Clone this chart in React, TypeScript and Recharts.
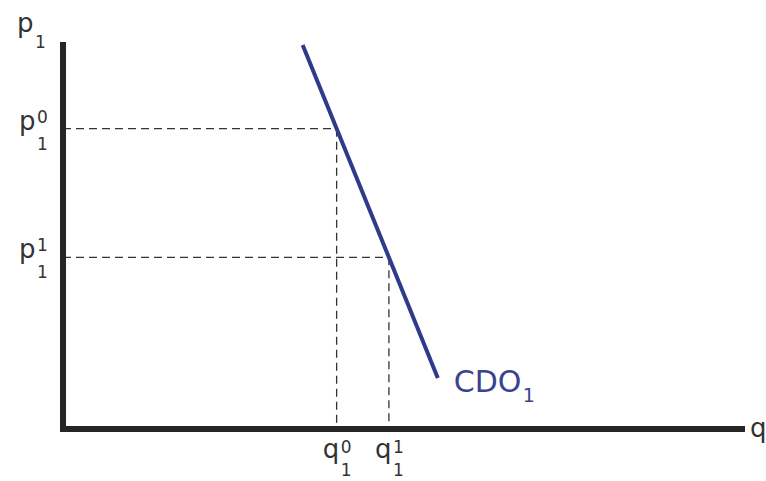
import React from "react";
import { LineChart, Line, XAxis, YAxis, ReferenceLine, LabelList } from "recharts";

// demand curve end points (quantity, price)
const demandCurve = [
  { q: 35.3, p: 100 },
  { q: 55.2, p: 13.3 },
];

// two equilibrium points on the curve
const quantities = [40.3, 48.0];
const prices = [78.2, 44.7];
const stateMarks = ["0", "1"];

const FONT = "'DejaVu Sans', Verdana, sans-serif";
const TEXT = "#333";
const AXIS = "#262626";
const CURVE = "#2f3a8a";

const QTick = (props: any) => {
  const { x, y, index } = props;
  return (
    <g fontFamily={FONT} fill={TEXT}>
      <text x={x - 14} y={y + 29} fontSize={26}>q</text>
      <text x={x + 4} y={y + 24} fontSize={17}>{stateMarks[index]}</text>
      <text x={x + 4} y={y + 47} fontSize={17}>1</text>
    </g>
  );
};

const PTick = (props: any) => {
  const { x, y, index } = props;
  return (
    <g fontFamily={FONT} fill={TEXT}>
      <text x={x - 44} y={y + 1} fontSize={26}>p</text>
      <text x={x - 26} y={y - 6} fontSize={17}>{stateMarks[index]}</text>
      <text x={x - 26} y={y + 21} fontSize={17}>1</text>
    </g>
  );
};

const PTitle = (props: any) => {
  const { x, y, width } = props.viewBox;
  const left = x + width;
  return (
    <g fontFamily={FONT} fill={TEXT}>
      <text x={left - 46} y={y - 13} fontSize={26}>p</text>
      <text x={left - 28} y={y + 3} fontSize={17}>1</text>
    </g>
  );
};

const QTitle = (props: any) => {
  const { x, y, width } = props.viewBox;
  return (
    <text x={x + width + 8} y={y + 8} fontSize={26} fontFamily={FONT} fill={TEXT}>
      q
    </text>
  );
};

const CurveName = (props: any) => {
  const { x, y, index } = props;
  if (index !== demandCurve.length - 1) return null;
  return (
    <g fontFamily={FONT} fill="#3b4290">
      <text x={x + 16} y={y + 14} fontSize={30}>CDO</text>
      <text x={x + 85} y={y + 24} fontSize={19}>1</text>
    </g>
  );
};

export default function App() {
  return (
    <div style={{ position: "absolute", left: 0, top: 0, background: "#fff" }}>
      <LineChart
        width={766}
        height={481}
        data={demandCurve}
        margin={{ top: 45, right: 24, left: 62, bottom: 51 }}
      >
        <XAxis
          type="number"
          dataKey="q"
          domain={[0, 100]}
          ticks={quantities}
          tick={<QTick />}
          tickLine={false}
          tickSize={0}
          tickMargin={0}
          height={1}
          axisLine={{ stroke: AXIS, strokeWidth: 6, strokeLinecap: "square" }}
          label={{ content: QTitle }}
          interval={0}
        />
        <YAxis
          type="number"
          dataKey="p"
          domain={[0, 100]}
          ticks={prices}
          tick={<PTick />}
          tickLine={false}
          tickSize={0}
          tickMargin={0}
          width={1}
          axisLine={{ stroke: AXIS, strokeWidth: 6, strokeLinecap: "square" }}
          label={{ content: PTitle }}
          interval={0}
        />
        {quantities.map((q, i) => (
          <ReferenceLine
            key={`h${i}`}
            segment={[{ x: 0, y: prices[i] }, { x: q, y: prices[i] }]}
            stroke="#333"
            strokeWidth={1.3}
            strokeDasharray="8 5"
          />
        ))}
        {quantities.map((q, i) => (
          <ReferenceLine
            key={`v${i}`}
            segment={[{ x: q, y: prices[i] }, { x: q, y: 0 }]}
            stroke="#333"
            strokeWidth={1.3}
            strokeDasharray="8 5"
          />
        ))}
        <Line
          type="linear"
          dataKey="p"
          stroke={CURVE}
          strokeWidth={4}
          dot={false}
          activeDot={false}
          isAnimationActive={false}
        >
          <LabelList dataKey="p" content={CurveName} />
        </Line>
      </LineChart>
    </div>
  );
}
